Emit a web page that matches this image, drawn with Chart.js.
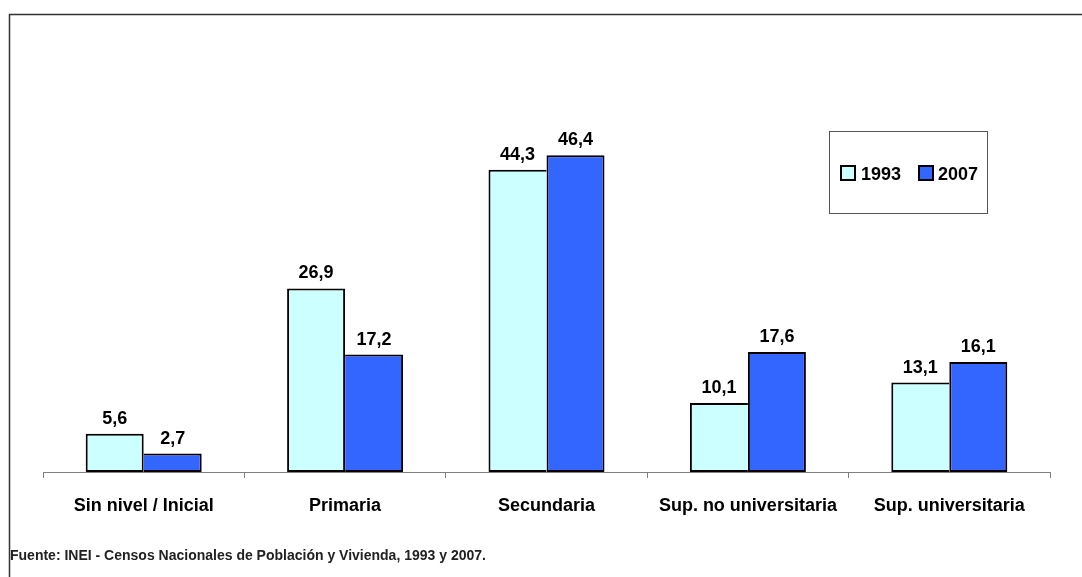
<!DOCTYPE html>
<html><head><meta charset="utf-8">
<script src="https://cdn.jsdelivr.net/npm/chart.js@4"></script>
<style>html,body{margin:0;padding:0;background:#fff}#wrap{width:1082px;height:577px}</style>
</head><body><div id="wrap"><canvas id="c" width="1082" height="577"></canvas></div>
<script>
const categories = ['Sin nivel / Inicial', 'Primaria', 'Secundaria', 'Sup. no universitaria', 'Sup. universitaria'];
const seriesLabels = ['1993', '2007'];
const values1993 = [5.6, 26.9, 44.3, 10.1, 13.1];
const values2007 = [2.7, 17.2, 46.4, 17.6, 16.1];
const seriesColors = ['#CCFFFF', '#3366FF'];
const sourceNote = 'Fuente: INEI - Censos Nacionales de Población y Vivienda, 1993 y 2007.';

const FONT = '"Liberation Sans", Arial, sans-serif';

// shared edge between adjacent bars: only the taller bar draws it
const bw1993 = (c) => ({ top: 2, left: 2, bottom: 2, right: values1993[c.dataIndex] >= values2007[c.dataIndex] ? 2 : 0 });
const bw2007 = (c) => ({ top: 2, right: 2, bottom: 2, left: values2007[c.dataIndex] > values1993[c.dataIndex] ? 2 : 0 });

const decor = {
  id: 'decor',
  beforeDraw(chart) {
    const ctx = chart.ctx;
    ctx.save();
    ctx.fillStyle = '#fff';
    ctx.fillRect(0, 0, chart.width, chart.height);
    ctx.strokeStyle = '#333';
    ctx.lineWidth = 1.5;
    ctx.beginPath();
    ctx.moveTo(9.5, 577); ctx.lineTo(9.5, 14.5); ctx.lineTo(1082, 14.5);
    ctx.stroke();
    ctx.restore();
  },
  afterDatasetsDraw(chart) {
    const ctx = chart.ctx;
    ctx.save();
    ctx.font = 'bold 18px ' + FONT;
    ctx.fillStyle = '#000';
    ctx.textAlign = 'center';
    ctx.textBaseline = 'alphabetic';
    chart.data.datasets.forEach((ds, i) => {
      chart.getDatasetMeta(i).data.forEach((el, j) => {
        const t = ds.data[j].toFixed(1).replace('.', ',');
        ctx.fillText(t, el.x, el.y - 10);
      });
    });
    // legend
    ctx.strokeStyle = '#555';
    ctx.lineWidth = 1;
    ctx.strokeRect(829.5, 131.5, 158, 82);
    const mx = [841, 919], tx = [861, 938];
    ctx.textAlign = 'left';
    ctx.textBaseline = 'alphabetic';
    ctx.font = 'bold 18px ' + FONT;
    chart.data.datasets.forEach((ds, i) => {
      ctx.fillStyle = ds.backgroundColor;
      ctx.fillRect(mx[i], 166, 14, 14);
      ctx.strokeStyle = '#000';
      ctx.lineWidth = 2;
      ctx.strokeRect(mx[i], 166, 14, 14);
      ctx.fillStyle = '#000';
      ctx.fillText(ds.label, tx[i], 180);
    });
    // source
    ctx.font = 'bold 14px ' + FONT;
    ctx.fillStyle = '#222';
    ctx.fillText(sourceNote, 10, 560);
    ctx.restore();
  }
};

new Chart(document.getElementById('c'), {
  type: 'bar',
  data: {
    labels: categories,
    datasets: [
      { label: seriesLabels[0], data: values1993, backgroundColor: seriesColors[0], borderColor: '#000', borderWidth: bw1993, borderSkipped: false },
      { label: seriesLabels[1], data: values2007, backgroundColor: seriesColors[1], borderColor: '#000', borderWidth: bw2007, borderSkipped: false }
    ]
  },
  options: {
    responsive: false,
    animation: false,
    devicePixelRatio: 1,
    datasets: { bar: { categoryPercentage: 0.576, barPercentage: 1 } },
    layout: { padding: { top: 62.5, left: 43, right: 32, bottom: 0 } },
    plugins: { legend: { display: false }, tooltip: { enabled: false } },
    scales: {
      y: { display: false, min: 0, max: 60 },
      x: {
        grid: { drawOnChartArea: false, drawTicks: true, tickLength: 6, color: '#808080', offset: true },
        border: { color: '#808080', width: 1 },
        ticks: { color: '#000', padding: 17, maxRotation: 0, minRotation: 0, autoSkip: false, font: { family: FONT, size: 18, weight: 'bold' } },
        afterFit(s) { s.height = 105; }
      }
    }
  },
  plugins: [decor]
});
</script>
</body></html>
